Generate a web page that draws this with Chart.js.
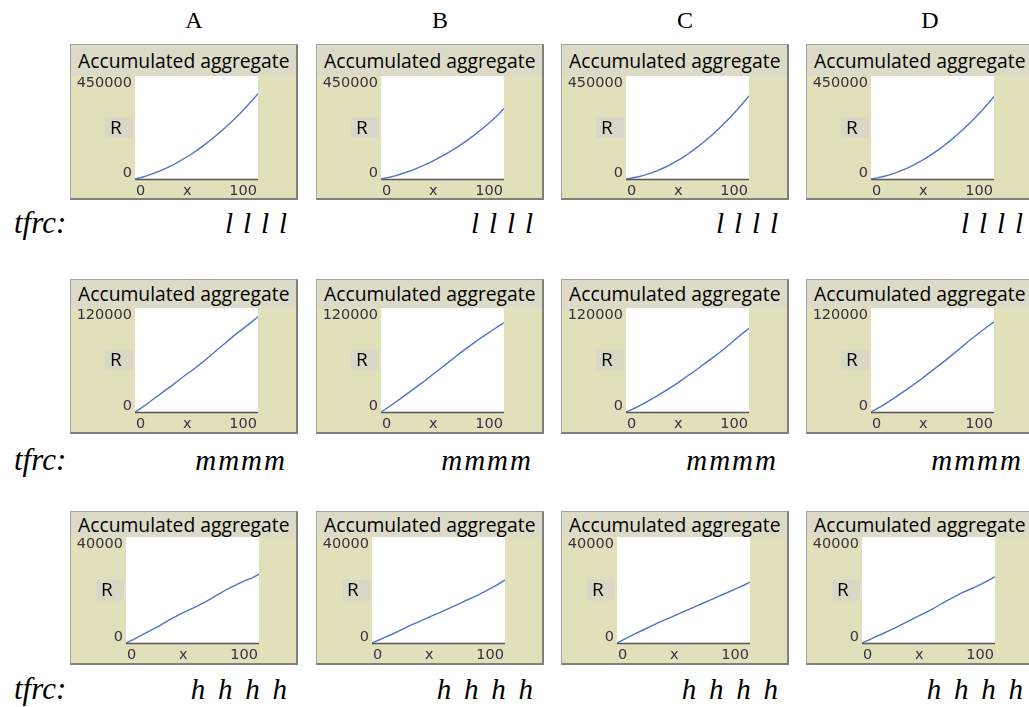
<!DOCTYPE html>
<html>
<head>
<meta charset="utf-8">
<script src="https://cdn.jsdelivr.net/npm/chart.js@4.4.1/dist/chart.umd.min.js"></script>
<style>
  html, body { margin: 0; padding: 0; background: #fff; width: 1029px; height: 707px; overflow: hidden; position: relative; }
  .hdr { position: absolute; font-family: 'Liberation Serif', serif; font-size: 24px; line-height: 1; color: #000; transform: translateX(-50%); white-space: nowrap; }
  .tag { position: absolute; font-family: 'Liberation Serif', serif; font-style: italic; font-size: 29px; line-height: 1; color: #000; white-space: nowrap; }
  .tag.lead { font-size: 31px; }
  .tag.right { transform: translateX(-100%); }
  .panel { position: absolute; box-sizing: border-box; width: 228px; background: #e1e0ba;
           border: 1px solid #a4a49c; border-right: 2px solid #808078; border-bottom: 2px solid #808078; }
  .band { position: absolute; left: 0; right: 0; top: 0; background: #dcdbc8; box-sizing: border-box;
          font-family: 'Open Sans', sans-serif; font-size: 19.3px; color: #000; padding-left: 7px; white-space: nowrap; overflow: hidden; }
  .panel canvas { position: absolute; left: 0; }
</style>
</head>
<body>
<script>
// x steps shared by every run (ticks 0..100)
const steps = [0, 5, 10, 15, 20, 25, 30, 35, 40, 45, 50, 55, 60, 65, 70, 75, 80, 85, 90, 95, 100];

const columns = ['A', 'B', 'C', 'D'];
const rowTags = ['l l l l', 'mmmm', 'h h h h'];
const rowTitle = 'Accumulated aggregate';
const yAxisName = 'R';
const xAxisName = 'x';
const xTickLabels = ['0', '100'];
const yTickLabels = ['450000', '120000', '40000'];
const yMax = [450000, 120000, 40000];

// accumulated aggregate R, low tfrc
const lowA = [0, 6500, 14800, 24200, 34500, 46000, 59000, 73500, 89500, 106000, 124000, 143500, 164000, 186000, 208500, 232500, 257500, 284000, 312500, 342000, 373000];
const lowB = [0, 5200, 11800, 19500, 28300, 38000, 48800, 60500, 73000, 86500, 101000, 116500, 133000, 150500, 169000, 188500, 209500, 231500, 254500, 280000, 308000];
const lowC = [0, 4200, 9900, 17000, 25500, 35500, 47000, 60000, 74500, 90500, 108000, 127000, 147500, 169000, 192500, 217000, 243500, 271000, 300000, 331000, 363000];
const lowD = [0, 4700, 10800, 18300, 27000, 37300, 49000, 62000, 76500, 92500, 110000, 128500, 148500, 170000, 193000, 217500, 243000, 270000, 298500, 328500, 360000];

// medium tfrc
const midA = [0, 4500, 9500, 15000, 20000, 25500, 30500, 36000, 41500, 46500, 52000, 57500, 63500, 69500, 75500, 81500, 87500, 93000, 98500, 104000, 110000];
const midB = [0, 4600, 9500, 14600, 19800, 25000, 30200, 35500, 41000, 46500, 52000, 57500, 63200, 68800, 74000, 79200, 84200, 89000, 93800, 98500, 103000];
const midC = [0, 3000, 6600, 10300, 14200, 18300, 22600, 27000, 31600, 36500, 41500, 46500, 51700, 57000, 62200, 67500, 73000, 79000, 85000, 91000, 96500];
const midD = [0, 3800, 8000, 12500, 17200, 22000, 27000, 32000, 37000, 42500, 48000, 53500, 59000, 64800, 70500, 76500, 82500, 88000, 93500, 99000, 104000];

// high tfrc
const highA = [0, 1200, 2500, 3800, 5100, 6500, 8000, 9400, 10700, 11900, 13100, 14300, 15600, 17000, 18500, 20000, 21300, 22500, 23600, 24600, 26000];
const highB = [0, 1100, 2200, 3300, 4500, 5700, 6900, 8000, 9100, 10200, 11300, 12400, 13500, 14700, 15900, 17000, 18200, 19500, 20800, 22200, 23800];
const highC = [0, 1300, 2600, 3800, 5000, 6200, 7400, 8500, 9600, 10700, 11800, 12900, 14000, 15100, 16200, 17300, 18400, 19500, 20600, 21700, 23000];
const highD = [0, 1100, 2300, 3400, 4600, 5700, 7000, 8300, 9600, 10800, 12000, 13400, 14900, 16300, 17600, 18900, 20000, 21100, 22300, 23600, 25000];

const grid = [
  [lowA, lowB, lowC, lowD],
  [midA, midB, midC, midD],
  [highA, highB, highC, highD]
];

// page layout (pixels)
const colLeft = [70, 316, 561, 806];
const rowTop = [44, 279, 511];
const rowHeight = [156, 155, 154];
const rowPlotTop = [76, 308, 537];
const rowPlotBottom = [179, 412, 643];
const rowPlotLeft = [65, 65, 56];
const rowPlotRight = [188, 188, 189];
const rowBaseline = [233, 470, 699];
const tagRight = 217;

const tickFont = '14.5px "DejaVu Sans"';
const tickColor = '#3b2f47';

// draws the white plot field, x axis line, tick labels and axis names
const panelDecor = {
  id: 'panelDecor',
  beforeDatasetsDraw(chart, args, opts) {
    const { ctx, chartArea: a, scales: { x, y } } = chart;
    ctx.save();
    ctx.fillStyle = '#ffffff';
    ctx.fillRect(a.left, a.top, a.right - a.left, a.bottom - a.top);

    ctx.strokeStyle = '#55555a';
    ctx.lineWidth = 1.5;
    ctx.beginPath();
    ctx.moveTo(a.left, a.bottom + 0.5);
    ctx.lineTo(a.right, a.bottom + 0.5);
    ctx.stroke();

    ctx.font = tickFont;
    ctx.fillStyle = tickColor;
    ctx.textAlign = 'right';
    ctx.textBaseline = 'top';
    ctx.fillText(opts.yTop, a.left - 3, y.getPixelForValue(y.max) + 0);
    ctx.textBaseline = 'alphabetic';
    ctx.fillText('0', a.left - 3, y.getPixelForValue(0) - 2);

    const by = a.bottom + 16;
    const x0 = x.getPixelForValue(x.min) + 1;
    const x1 = x.getPixelForValue(x.max) - 1;
    ctx.textAlign = 'left';
    ctx.fillText(xTickLabels[0], x0, by);
    ctx.textAlign = 'right';
    ctx.fillText(xTickLabels[1], x1, by);
    const w0 = ctx.measureText(xTickLabels[0]).width;
    const w1 = ctx.measureText(xTickLabels[1]).width;
    ctx.textAlign = 'center';
    ctx.fillText(xAxisName, (x0 + w0 + x1 - w1) / 2, by);

    const cy = (a.top + a.bottom) / 2;
    ctx.fillStyle = '#d9d8c6';
    ctx.fillRect(a.left - 30, cy - 10.5, 28, 21);
    ctx.fillStyle = '#000';
    ctx.font = '19px "Open Sans"';
    ctx.textAlign = 'left';
    ctx.textBaseline = 'middle';
    ctx.fillText(yAxisName, a.left - 25, cy + 1);
    ctx.restore();
  }
};

// column headers
columns.forEach((c, ci) => {
  const d = document.createElement('div');
  d.className = 'hdr';
  d.textContent = c;
  d.style.left = (colLeft[ci] + 124) + 'px';
  d.style.top = '8px';
  document.body.appendChild(d);
});

rowTags.forEach((tag, ri) => {
  const lead = document.createElement('div');
  lead.className = 'tag lead';
  lead.textContent = 'tfrc:';
  lead.style.left = '14px';
  lead.style.top = (rowBaseline[ri] - 26) + 'px';
  document.body.appendChild(lead);

  columns.forEach((c, ci) => {
    const t = document.createElement('div');
    t.className = 'tag right';
    t.textContent = tag;
    if (tag === 'mmmm') t.style.letterSpacing = '2px';
    else if (tag === 'h h h h') t.style.wordSpacing = '5.5px';
    else t.style.wordSpacing = '2.7px';
    t.style.left = (colLeft[ci] + tagRight) + 'px';
    t.style.top = (rowBaseline[ri] - 24) + 'px';
    document.body.appendChild(t);

    // the plot panel
    const top = rowTop[ri], h = rowHeight[ri];
    const panel = document.createElement('div');
    panel.className = 'panel';
    panel.style.left = colLeft[ci] + 'px';
    panel.style.top = top + 'px';
    panel.style.height = h + 'px';
    document.body.appendChild(panel);

    const bandH = rowPlotTop[ri] - (top + 1);
    const band = document.createElement('div');
    band.className = 'band';
    band.style.height = bandH + 'px';
    band.style.lineHeight = bandH + 'px';
    band.textContent = rowTitle;
    panel.appendChild(band);

    const innerBottom = top + h - 2;
    const cw = 225, ch = innerBottom - rowPlotTop[ri];
    const cv = document.createElement('canvas');
    cv.width = cw; cv.height = ch;
    cv.style.width = cw + 'px'; cv.style.height = ch + 'px';
    cv.style.top = bandH + 'px';
    panel.appendChild(cv);

    new Chart(cv, {
      type: 'line',
      data: {
        datasets: [{
          data: steps.map((s, i) => ({ x: s, y: grid[ri][ci][i] })),
          borderColor: '#5073c2',
          borderWidth: 1.4,
          pointRadius: 0,
          tension: 0,
          fill: false
        }]
      },
      options: {
        responsive: false,
        animation: false,
        events: [],
        layout: {
          padding: {
            left: rowPlotLeft[ri] - 1,
            right: 226 - rowPlotRight[ri],
            top: 0,
            bottom: innerBottom - rowPlotBottom[ri]
          }
        },
        scales: {
          x: { type: 'linear', min: 0, max: 100, display: false },
          y: { type: 'linear', min: 0, max: yMax[ri], display: false }
        },
        plugins: {
          legend: { display: false },
          tooltip: { enabled: false },
          panelDecor: { yTop: yTickLabels[ri] }
        }
      },
      plugins: [panelDecor]
    });
  });
});
</script>
</body>
</html>
